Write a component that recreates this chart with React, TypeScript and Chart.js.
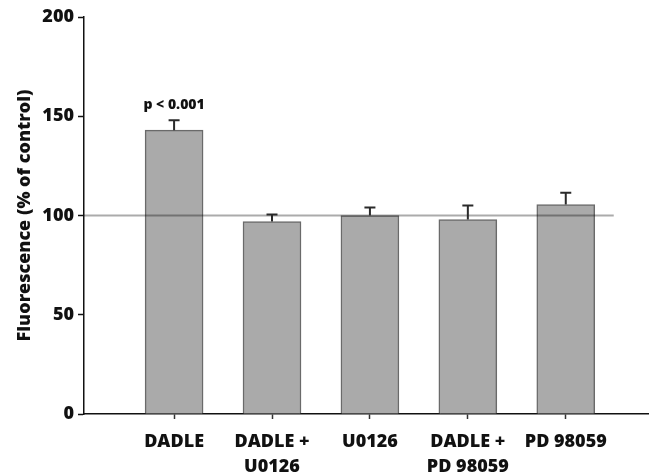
import React, { useEffect, useRef } from "react";
import { Chart, registerables } from "chart.js";

Chart.register(...registerables);

// Treatment groups (multi-line labels use \n)
const categories = ["DADLE", "DADLE +\nU0126", "U0126", "DADLE +\nPD 98059", "PD 98059"];
// Mean fluorescence, % of control
const means = [143, 97, 100, 98, 105.5];
// Upper error (SEM)
const errors = [5, 3.5, 4, 7, 6];
// Significance notes above bars
const notes = ["p < 0.001", "", "", "", ""];
// Control reference level
const controlLevel = 100;
const yTicks = [0, 50, 100, 150, 200];

const FONT = "'Open Sans', 'DejaVu Sans', sans-serif";

const overlayPlugin = {
  id: "overlay",
  afterDatasetsDraw(chart: any) {
    const { ctx, chartArea, scales } = chart;
    const xs = scales.x;
    const ys = scales.y;
    ctx.save();
    // control reference line
    const yRef = ys.getPixelForValue(controlLevel);
    ctx.strokeStyle = "rgba(0,0,0,0.33)";
    ctx.lineWidth = 2;
    ctx.beginPath();
    ctx.moveTo(chartArea.left, yRef);
    ctx.lineTo(xs.getPixelForValue(5.49), yRef);
    ctx.stroke();

    // error bars (upper only)
    ctx.strokeStyle = "#2a2a2a";
    ctx.lineWidth = 2;
    means.forEach((m, i) => {
      const x = xs.getPixelForValue(i + 1);
      const y0 = ys.getPixelForValue(m);
      const y1 = ys.getPixelForValue(m + errors[i]);
      ctx.beginPath();
      ctx.moveTo(x, y0);
      ctx.lineTo(x, y1);
      ctx.moveTo(x - 5.5, y1);
      ctx.lineTo(x + 5.5, y1);
      ctx.stroke();
      if (notes[i]) {
        ctx.fillStyle = "#111";
        ctx.font = `800 14px ${FONT}`;
        ctx.textAlign = "center";
        ctx.textBaseline = "middle";
        ctx.fillText(notes[i], x, y1 - 15);
      }
    });
    ctx.restore();
  },
};

export default function App() {
  const canvasRef = useRef<HTMLCanvasElement | null>(null);

  useEffect(() => {
    if (!canvasRef.current) return;
    const chart = new Chart(canvasRef.current, {
      type: "bar",
      data: {
        datasets: [
          {
            data: means.map((v, i) => ({ x: i + 1, y: v })),
            backgroundColor: "#aaaaaa",
            borderColor: "#6a6a6a",
            borderWidth: 1.5,
            barThickness: 58,
          },
        ],
      },
      options: {
        responsive: false,
        animation: false,
        layout: { padding: { top: 17, right: 0, left: 0, bottom: 0 } },
        plugins: { legend: { display: false }, tooltip: { enabled: false } },
        scales: {
          x: {
            type: "linear",
            offset: false,
            min: 0.08,
            max: 5.85,
            afterBuildTicks: (scale: any) => {
              scale.ticks = categories.map((_, i) => ({ value: i + 1 }));
            },
            afterFit: (scale: any) => {
              scale.height = 62;
            },
            border: { color: "#111", width: 1.5 },
            grid: {
              offset: false,
              drawOnChartArea: false,
              drawTicks: true,
              tickLength: 5,
              color: "#333",
              tickWidth: 1.5,
            },
            ticks: {
              autoSkip: false,
              maxRotation: 0,
              padding: 10,
              color: "#111",
              font: { family: FONT, size: 18, weight: "800", lineHeight: 1.4 },
              callback: (v: any) => {
                const lbl = categories[Math.round(v) - 1];
                return lbl ? lbl.split("\n") : "";
              },
            },
          },
          y: {
            min: 0,
            max: 200,
            afterBuildTicks: (scale: any) => {
              scale.ticks = yTicks.map((v) => ({ value: v }));
            },
            afterFit: (scale: any) => {
              scale.width = 84;
            },
            border: { color: "#111", width: 1.5 },
            grid: { drawOnChartArea: false, drawTicks: true, tickLength: 6, color: "#111", tickWidth: 1.5 },
            ticks: {
              padding: 4,
              color: "#111",
              font: { family: FONT, size: 18, weight: "800" },
            },
            title: {
              display: true,
              text: "Fluorescence (% of control)",
              color: "#111",
              font: { family: FONT, size: 18, weight: "800" },
              padding: { top: 14, bottom: 0 },
            },
          },
        },
      },
      plugins: [overlayPlugin],
    });
    return () => chart.destroy();
  }, []);

  return (
    <div style={{ position: "absolute", left: 0, top: 0, width: 649, height: 476, background: "#fff" }}>
      <canvas ref={canvasRef} width={649} height={476} />
    </div>
  );
}
